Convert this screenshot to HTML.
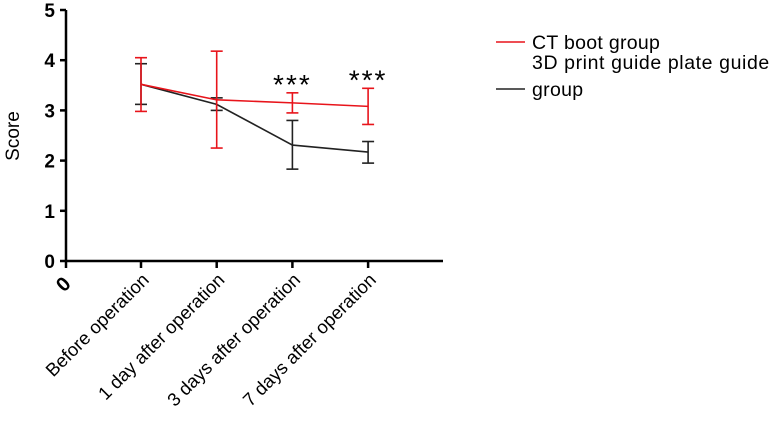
<!DOCTYPE html>
<html><head><meta charset="utf-8"><style>
body{margin:0;background:#fff;}
svg{font-family:"Liberation Sans",Arial,sans-serif;}
</style></head><body>
<svg id="c" width="779" height="416"></svg>
<script>
const categories=["Before operation","1 day after operation","3 days after operation","7 days after operation"];
const ctMean=[3.52,3.21,3.15,3.08];
const ctLow=[2.98,2.25,2.95,2.72];
const ctHigh=[4.05,4.18,3.35,3.44];
const gpMean=[3.52,3.12,2.31,2.17];
const gpLow=[3.12,3.0,1.83,1.95];
const gpHigh=[3.93,3.25,2.8,2.38];
const yTicks=[0,1,2,3,4,5];
const sig=["","","***","***"];
const ns="http://www.w3.org/2000/svg";
const svg=document.getElementById('c');
function y(v){return 261-v*50.2;}
function x(i){return 141+i*75.7;}
function el(t,a,txt){const e=document.createElementNS(ns,t);for(const k in a)e.setAttribute(k,a[k]);if(txt!==undefined)e.textContent=txt;svg.appendChild(e);return e;}
let e;
e=el('line',{x1:66,y1:y(5),x2:66,y2:y(0)+1,stroke:'#000','stroke-width':2.5});


e=el('line',{x1:65,y1:y(0),x2:443,y2:y(0),stroke:'#000','stroke-width':2.5});


yTicks.forEach(t=>{
  e=el('line',{x1:60,y1:y(t),x2:66,y2:y(t),stroke:'#000','stroke-width':2.5});
  
  
  e=el('text',{x:55,y:y(t)+7,'text-anchor':'end','font-size':19,'font-weight':'bold'},String(t));
  
  
});
e=el('line',{x1:66,y1:y(0),x2:66,y2:y(0)+7,stroke:'#000','stroke-width':2.5});


e=el('text',{x:0,y:0,'font-size':20,'font-weight':'bold','text-anchor':'end',transform:'translate(72,285) rotate(-45)'},'0');


categories.forEach((c,i)=>{
  e=el('line',{x1:x(i),y1:y(0),x2:x(i),y2:y(0)+7,stroke:'#000','stroke-width':2.5});
  
  
  e=el('text',{x:0,y:0,'font-size':18.5,'text-anchor':'end',transform:`translate(${x(i)+9},${y(0)+20}) rotate(-45)`},c);
  
  
});
e=el('text',{x:0,y:0,'font-size':19,'text-anchor':'middle',transform:'translate(19,136) rotate(-90)'},'Score');


function series(m,lo,hi,col,name){
  m.forEach((v,i)=>{
    e=el('line',{x1:x(i),y1:y(lo[i]),x2:x(i),y2:y(hi[i]),stroke:col,'stroke-width':1.6});
    
    
    [lo[i],hi[i]].forEach(b=>{
      e=el('line',{x1:x(i)-6,y1:y(b),x2:x(i)+6,y2:y(b),stroke:col,'stroke-width':1.6});
      
      
    });
  });
  e=el('polyline',{points:m.map((v,i)=>x(i)+','+y(v)).join(' '),fill:'none',stroke:col,'stroke-width':1.6});
  
  
}
series(gpMean,gpLow,gpHigh,'#222','guide-plate');
series(ctMean,ctLow,ctHigh,'#e8141b','ct-boot');
sig.forEach((s,i)=>{if(!s)return;
  const top=Math.max(ctHigh[i],gpHigh[i]);
  e=el('text',{x:x(i),y:y(top)+1,'text-anchor':'middle','font-size':28,'letter-spacing':'2'},s);
  
  
});
e=el('line',{x1:496,y1:42,x2:525,y2:42,stroke:'#e8141b','stroke-width':1.6});


e=el('text',{x:532,y:49,'font-size':19.5,'letter-spacing':'0.3'},'CT boot group');


e=el('line',{x1:496,y1:89,x2:525,y2:89,stroke:'#222','stroke-width':1.6});


e=el('text',{x:532,y:69,'font-size':19.5,'letter-spacing':'0.6'},'3D print guide plate guide');


e=el('text',{x:532,y:96,'font-size':19.5,'letter-spacing':'0.3'},'group');


</script>
</body></html>
